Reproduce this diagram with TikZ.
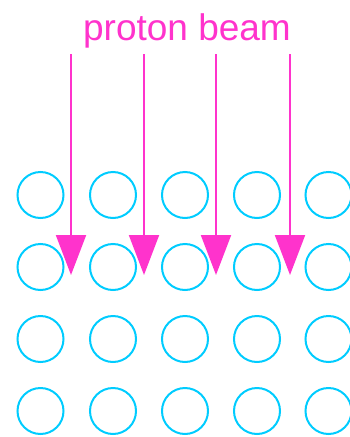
\documentclass[tikz,border=0pt]{standalone}
\usepackage{fontspec}
\setmainfont{Liberation Sans}
\usetikzlibrary{arrows.meta}
\definecolor{beam}{RGB}{255,51,204}
\definecolor{atomc}{RGB}{0,204,255}
\begin{document}
\begin{tikzpicture}[x=1pt,y=-1pt,
  atom/.style={circle,draw=atomc,line width=2pt,minimum size=46pt,inner sep=0pt},
  beamarrow/.style={draw=beam,line width=2pt,-{Triangle[length=40pt,width=30pt]}},
  label/.style={text=beam,font=\fontsize{37}{40}\selectfont,anchor=base,inner sep=0pt}]
\useasboundingbox (0,0) rectangle (350,437);
\begin{scope}
\clip (0,0) rectangle (350,437);
\foreach \c/\x in {1/40.5,2/113,3/185,4/257,5/328.5}{
  \foreach \r/\y in {1/195,2/267,3/339,4/411}{
    \node[atom] (a\c\r) at (\x,\y) {};
  }
}
\end{scope}
\node[label] (title) at (187,40) {proton beam};
\foreach \i/\x in {1/71,2/144,3/216,4/290}{
  \coordinate (s\i) at (\x,54);
  \coordinate (e\i) at (\x,275);
  \draw[beamarrow] (s\i) -- (e\i);
}
\end{tikzpicture}
\end{document}
